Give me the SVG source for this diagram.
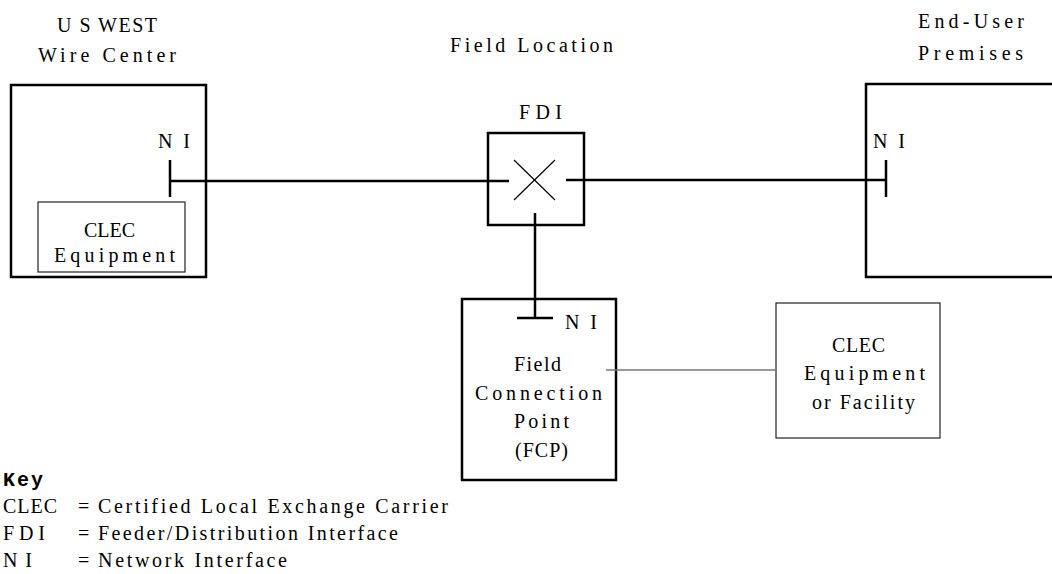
<svg xmlns="http://www.w3.org/2000/svg" width="1052" height="574" viewBox="0 0 1052 574">
<style>
  .t{font-family:"Liberation Serif","Times New Roman",serif;font-size:20px;fill:#000}
  .k{font-family:"Liberation Mono","Courier New",monospace;font-size:20px;font-weight:bold;fill:#000}
  .thick{fill:none;stroke:#000;stroke-width:2.5}
  .thin{fill:none;stroke:#222;stroke-width:1.2}
  .wire{stroke:#000;stroke-width:2.5;fill:none}
  .gray{stroke:#777;stroke-width:1.5;fill:none}
</style>
<rect width="1052" height="574" fill="#fff"/>

<g id="labels">
  <text class="t" x="57" y="32" textLength="100" lengthAdjust="spacing">U S WEST</text>
  <text class="t" x="38" y="62" textLength="138" lengthAdjust="spacing">Wire Center</text>
  <text class="t" x="450" y="52" textLength="163" lengthAdjust="spacing">Field Location</text>
  <text class="t" x="918" y="28" textLength="106" lengthAdjust="spacing">End-User</text>
  <text class="t" x="918" y="60" textLength="105" lengthAdjust="spacing">Premises</text>
</g>

<g id="wire-center">
  <rect class="thick" x="11" y="85" width="195" height="192"/>
  <text class="t" x="158" y="148" textLength="32" lengthAdjust="spacing">NI</text>
  <line class="wire" x1="170" y1="160" x2="170" y2="197"/>
</g>

<g id="clec-equipment-wc">
  <rect class="thin" x="38" y="202" width="147" height="70"/>
  <text class="t" x="84" y="237" textLength="51" lengthAdjust="spacing">CLEC</text>
  <text class="t" x="54" y="262" textLength="121" lengthAdjust="spacing">Equipment</text>
</g>

<g id="fdi">
  <text class="t" x="519" y="119" textLength="43" lengthAdjust="spacing">FDI</text>
  <rect class="thick" x="488" y="133" width="96" height="92"/>
  <line stroke="#000" stroke-width="1.2" x1="514" y1="160" x2="555" y2="200"/>
  <line stroke="#000" stroke-width="1.2" x1="555" y1="160" x2="514" y2="200"/>
</g>

<g id="end-user">
  <rect class="thick" x="866" y="84" width="200" height="193"/>
  <text class="t" x="873" y="148" textLength="32" lengthAdjust="spacing">NI</text>
  <line class="wire" x1="886" y1="160" x2="886" y2="197"/>
</g>

<g id="fcp">
  <rect class="thick" x="462" y="299" width="154" height="181"/>
  <line class="wire" x1="517" y1="318" x2="553" y2="318"/>
  <text class="t" x="565" y="329" textLength="32" lengthAdjust="spacing">NI</text>
  <text class="t" x="514" y="371" textLength="47" lengthAdjust="spacing">Field</text>
  <text class="t" x="475" y="400" textLength="127" lengthAdjust="spacing">Connection</text>
  <text class="t" x="514" y="428" textLength="55" lengthAdjust="spacing">Point</text>
  <text class="t" x="515" y="457" textLength="53" lengthAdjust="spacing">(FCP)</text>
</g>

<g id="clec-facility">
  <rect class="thin" x="776" y="303" width="164" height="135"/>
  <text class="t" x="832" y="352" textLength="53" lengthAdjust="spacing">CLEC</text>
  <text class="t" x="804" y="380" textLength="121" lengthAdjust="spacing">Equipment</text>
  <text class="t" x="812" y="409" textLength="103" lengthAdjust="spacing">or Facility</text>
</g>

<g id="connectors">
  <line class="wire" x1="170" y1="181" x2="509" y2="181"/>
  <line class="wire" x1="566" y1="180" x2="886" y2="180"/>
  <line class="wire" x1="535" y1="213" x2="535" y2="318"/>
  <line class="gray" x1="606" y1="370" x2="776" y2="370"/>
</g>

<g id="key">
  <text class="k" x="3" y="486" textLength="40" lengthAdjust="spacing">Key</text>
  <text class="t" x="3" y="513" textLength="54" lengthAdjust="spacing">CLEC</text>
  <text class="t" x="78" y="513">=</text>
  <text class="t" x="98" y="513" textLength="350" lengthAdjust="spacing">Certified Local Exchange Carrier</text>
  <text class="t" x="3" y="540" textLength="42" lengthAdjust="spacing">FDI</text>
  <text class="t" x="78" y="540">=</text>
  <text class="t" x="98" y="540" textLength="300" lengthAdjust="spacing">Feeder/Distribution Interface</text>
  <text class="t" x="3" y="567" textLength="29" lengthAdjust="spacing">NI</text>
  <text class="t" x="78" y="567">=</text>
  <text class="t" x="98" y="567" textLength="189" lengthAdjust="spacing">Network Interface</text>
</g>
</svg>
